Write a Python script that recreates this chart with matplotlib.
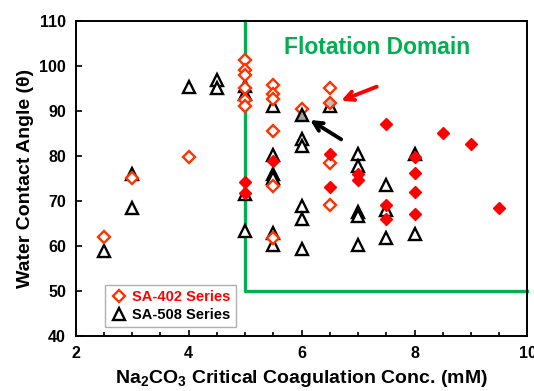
import matplotlib
matplotlib.use('Agg')
import matplotlib.pyplot as plt

plt.rcParams['font.family'] = ['Liberation Sans', 'DejaVu Sans']
plt.rcParams['font.weight'] = 'bold'
plt.rcParams['mathtext.fontset'] = 'custom'
plt.rcParams['mathtext.bf'] = 'Liberation Sans:bold'
plt.rcParams['mathtext.rm'] = 'Liberation Sans:bold'

# SA-402 series, open diamonds
sa402_x = [2.5, 3, 4, 5, 5, 5, 5, 5, 5, 5.5, 5.5, 5.5, 5.5, 5.5, 5.5, 6, 6.5, 6.5, 6.5]
sa402_y = [62.1, 75.0, 79.8, 101.3, 99.1, 98.0, 95.0, 92.4, 91.2, 95.8, 93.7, 92.6,
           85.5, 73.4, 61.8, 90.4, 95.2, 78.5, 69.0]

# SA-402 series, filled diamonds
sa402f_x = [5, 5, 5.5, 6.5, 6.5, 7, 7, 7.5, 7.5, 7.5, 8, 8, 8, 8, 8.5, 9, 9.5]
sa402f_y = [74.2, 71.7, 78.9, 80.5, 73.1, 75.9, 74.6, 87.2, 69.1, 66.0, 79.7, 76.3,
            71.9, 67.1, 85.0, 82.6, 68.4]

# SA-508 series, open triangles
sa508_x = [2.5, 3, 3, 4, 4.5, 4.5, 5, 5, 5, 5, 5.5, 5.5, 5.5, 5.5, 5.5, 5.5,
           6, 6, 6, 6, 6, 6.5, 7, 7, 7, 7, 7, 7.5, 7.5, 7.5, 8, 8]
sa508_y = [58.8, 76.1, 68.4, 95.3, 96.8, 95.0, 95.6, 93.7, 71.6, 63.3, 91.0, 80.2,
           76.1, 75.0, 62.8, 60.3, 83.8, 82.3, 68.8, 65.9, 59.4, 91.0, 80.4, 77.8,
           67.6, 66.7, 60.3, 73.6, 68.0, 61.7, 80.4, 62.7]

# the two points picked out by arrows
pick402 = (6.5, 91.8)
pick508 = (6, 89.2)

# flotation domain border
domain_x = [5, 5, 10]
domain_y = [110, 50, 50]

fig = plt.figure(figsize=(5.34, 3.91), dpi=100)
ax = fig.add_axes([0.1418, 0.1407, 0.8460, 0.8056])

ax.plot(domain_x, domain_y, color='#00b050', lw=2.4, zorder=1, clip_on=False)

ax.plot(sa508_x, sa508_y, linestyle='none', marker='^', ms=8.8, mfc='white',
        mec='black', mew=1.7, zorder=2, label='SA-508 Series')
ax.plot(sa402_x, sa402_y, linestyle='none', marker='D', ms=6.5, mfc='white',
        mec='#ff3300', mew=1.7, zorder=3, label='SA-402 Series')
ax.plot(sa402f_x, sa402f_y, linestyle='none', marker='D', ms=6.5, mfc='#ff0000',
        mec='#ff0000', mew=1.0, zorder=4)
ax.plot(*pick508, linestyle='none', marker='^', ms=8.8, mfc='#a0a0a0',
        mec='black', mew=1.7, zorder=4)
ax.plot(*pick402, linestyle='none', marker='D', ms=6.5, mfc='#c0c0c0',
        mec='#ff3300', mew=1.7, zorder=4)

# arrows
ax.annotate('', xy=(6.7, 92.3), xytext=(7.33, 95.4),
            arrowprops=dict(arrowstyle='->', lw=2.8, color='#ff0000',
                            mutation_scale=16, shrinkA=0, shrinkB=0), zorder=5)
ax.annotate('', xy=(6.15, 88.0), xytext=(6.7, 83.7),
            arrowprops=dict(arrowstyle='->', lw=2.8, color='black',
                            mutation_scale=16, shrinkA=0, shrinkB=0), zorder=5)

ax.text(7.33, 104.2, 'Flotation Domain', color='#00b050', fontsize=16.5,
        fontweight='bold', ha='center', va='center')

ax.set_xlim(2, 10)
ax.set_ylim(40, 110)
ax.set_xticks([2, 4, 6, 8, 10])
ax.set_xticks([x / 2 for x in range(4, 21)], minor=True)
ax.set_yticks(range(40, 111, 10))
ax.tick_params(axis='both', which='both', direction='in', labelsize=11.5,
               width=1.2, colors='black')
ax.tick_params(which='major', length=4)
ax.tick_params(which='minor', length=3)
ax.tick_params(axis='x', which='major', pad=7)
ax.tick_params(axis='y', which='major', pad=7)
for s in ax.spines.values():
    s.set_linewidth(1.4)

ax.set_xlabel(r'Na$_\mathbf{2}$CO$_\mathbf{3}$ Critical Coagulation Conc. (mM)',
              fontsize=14, fontweight='bold', labelpad=5)
ax.set_ylabel('Water Contact Angle (θ)', fontsize=14, fontweight='bold', labelpad=4)

handles, labels = ax.get_legend_handles_labels()
leg = ax.legend(handles[::-1], labels[::-1], loc='lower left',
                bbox_to_anchor=(0.065, 0.029), borderaxespad=0, fontsize=10.5,
                fancybox=False, edgecolor='#b0b0b0', framealpha=1,
                handletextpad=0.3, handlelength=1.2, borderpad=0.35,
                labelspacing=0.25)
leg.get_texts()[0].set_color('#ff0000')
leg.get_texts()[1].set_color('black')

fig.savefig('out.png', dpi=100)
